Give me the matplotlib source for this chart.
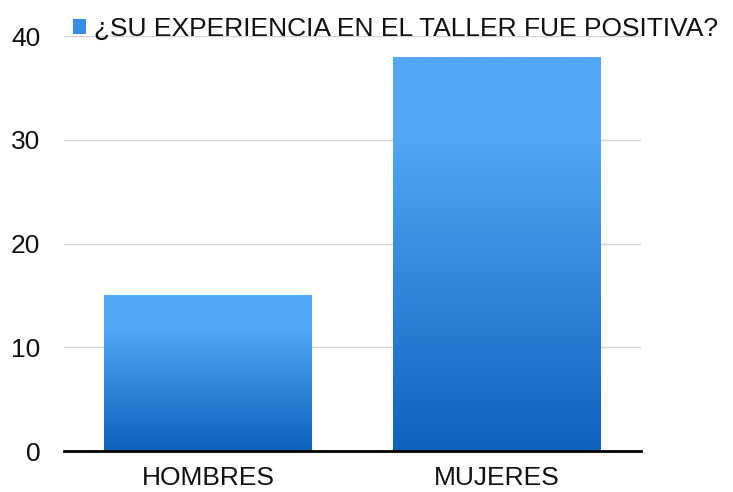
import matplotlib.pyplot as plt
import numpy as np
from matplotlib.colors import LinearSegmentedColormap

categories = ["HOMBRES", "MUJERES"]
values = [15, 38]
series_name = "¿SU EXPERIENCIA EN EL TALLER FUE POSITIVA?"
y_ticks = [0, 10, 20, 30, 40]

plt.rcParams['font.family'] = ['Liberation Sans', 'DejaVu Sans']

dark = "#0E62BE"
light = "#52A7F8"
cmap = LinearSegmentedColormap.from_list("bar", [(0, dark), (0.8, light), (1, light)])

fig = plt.figure(figsize=(7.33, 4.92), dpi=100)
ax = fig.add_axes([0.0873, 0.0833, 0.7872, 0.8435])

x = np.arange(len(categories))
bars = ax.bar(x, values, width=0.72, color="#3A8DE6", label=series_name, zorder=2)

# vertical gradient clipped to each bar
grad = np.linspace(0, 1, 256).reshape(-1, 1)
for b in bars:
    x0, y0 = b.get_x(), b.get_y()
    w, h = b.get_width(), b.get_height()
    im = ax.imshow(grad, extent=[x0, x0 + w, y0, y0 + h], origin='lower',
                   cmap=cmap, aspect='auto', zorder=3)
    im.set_clip_path(b)

ax.set_xlim(-0.5, len(categories) - 0.5)
ax.set_ylim(0, 40)
ax.set_yticks(y_ticks)
ax.set_xticks(x)
ax.set_xticklabels(categories)
ax.grid(axis='y', color='#d4d4d4', linewidth=1, zorder=0)
ax.set_axisbelow(True)
ax.tick_params(length=0, labelsize=19, colors='#111111')
ax.tick_params(axis='y', pad=17)
ax.tick_params(axis='x', pad=11)
for side in ['left', 'right', 'top']:
    ax.spines[side].set_visible(False)
ax.spines['bottom'].set_linewidth(2)
ax.spines['bottom'].set_color('black')
ax.spines['bottom'].set_zorder(4)

leg = ax.legend(loc='lower left', bbox_to_anchor=(0.016, 0.988), frameon=False,
                fontsize=19, handlelength=0.5, handleheight=0.5, handletextpad=0.3,
                borderaxespad=0, borderpad=0)
for t in leg.get_texts():
    t.set_color('#111111')

plt.savefig('out.png', dpi=100)
